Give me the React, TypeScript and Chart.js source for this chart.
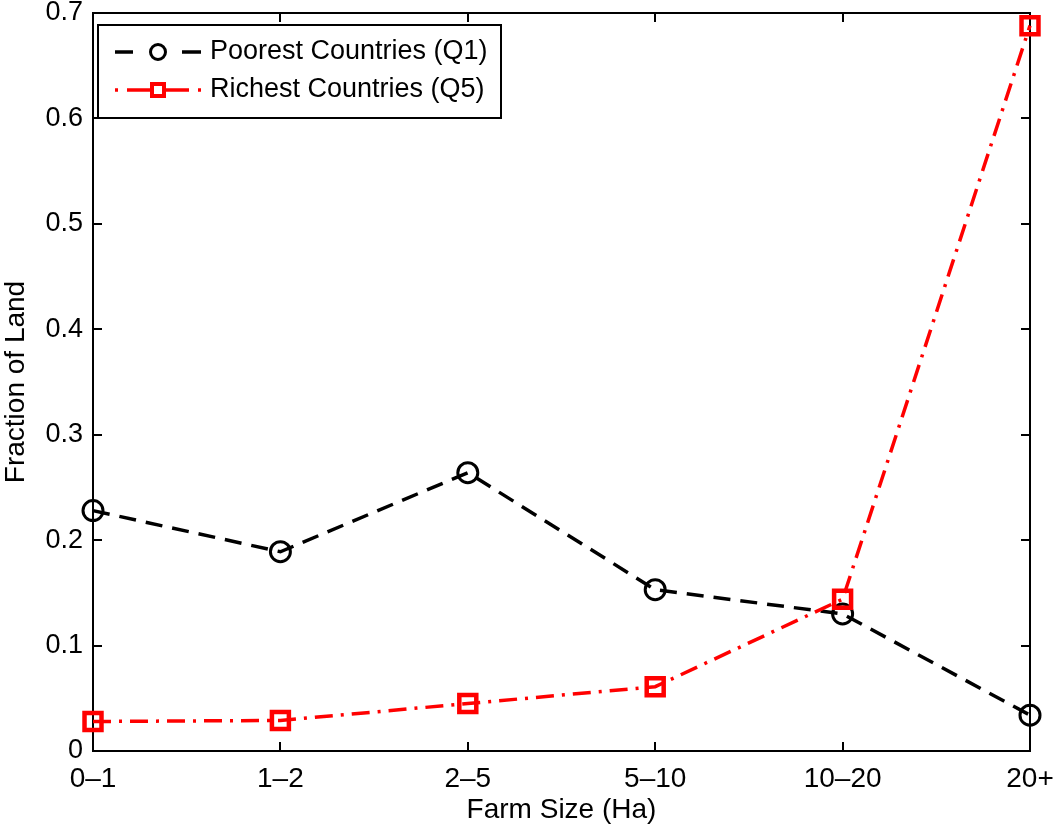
import React, { useEffect, useRef } from "react";
import { Chart, registerables } from "chart.js";

Chart.register(...registerables);

const categories = ["0\u20131", "1\u20132", "2\u20135", "5\u201310", "10\u201320", "20+"];
const poorest = [0.228, 0.189, 0.264, 0.153, 0.130, 0.034];
const richest = [0.028, 0.029, 0.045, 0.061, 0.144, 0.688];
const seriesNames = ["Poorest Countries (Q1)", "Richest Countries (Q5)"];

const FONT = "'Liberation Sans', Arial, Helvetica, sans-serif";
const RED = "#ff0000";
const BLACK_DASH = [17, 10];
const RED_DASH = [18, 8, 3, 8];

const framePlugin = {
  id: "frame",
  beforeDatasetsDraw(chart: any) {
    const { ctx, chartArea, scales } = chart;
    const { left, right, top, bottom } = chartArea;
    const x = scales.x;
    const y = scales.y;
    ctx.save();
    ctx.strokeStyle = "#000";
    ctx.lineWidth = 2;
    ctx.setLineDash([]);
    ctx.strokeRect(left, top, right - left, bottom - top);
    const tl = 9;
    ctx.beginPath();
    x.ticks.forEach((_: any, i: number) => {
      const px = Math.round(x.getPixelForTick(i));
      ctx.moveTo(px, bottom);
      ctx.lineTo(px, bottom - tl);
      ctx.moveTo(px, top);
      ctx.lineTo(px, top + tl);
    });
    y.ticks.forEach((_: any, i: number) => {
      const py = Math.round(y.getPixelForTick(i));
      ctx.moveTo(left, py);
      ctx.lineTo(left + tl, py);
      ctx.moveTo(right, py);
      ctx.lineTo(right - tl, py);
    });
    ctx.stroke();
    ctx.restore();
  },
  afterDraw(chart: any) {
    const { ctx, chartArea } = chart;
    const bx = chartArea.left + 5;
    const by = chartArea.top + 12;
    const bw = 403;
    const bh = 93;
    ctx.save();
    ctx.fillStyle = "#fff";
    ctx.fillRect(bx, by, bw, bh);
    ctx.strokeStyle = "#000";
    ctx.lineWidth = 2;
    ctx.setLineDash([]);
    ctx.strokeRect(bx, by, bw, bh);

    const rows = [by + 27, by + 65];
    const x0 = bx + 17;
    const x1 = bx + 103;
    const mx = (x0 + x1) / 2;
    ctx.strokeStyle = "#000";
    ctx.lineWidth = 3.5;
    ctx.beginPath();
    ctx.moveTo(x0, rows[0]);
    ctx.lineTo(x0 + 18, rows[0]);
    ctx.moveTo(x1 - 19, rows[0]);
    ctx.lineTo(x1, rows[0]);
    ctx.stroke();
    ctx.lineWidth = 3;
    ctx.beginPath();
    ctx.arc(mx, rows[0], 7.5, 0, Math.PI * 2);
    ctx.stroke();
    ctx.strokeStyle = RED;
    ctx.lineWidth = 3.5;
    ctx.beginPath();
    ctx.moveTo(x0, rows[1]);
    ctx.lineTo(x0 + 3, rows[1]);
    ctx.moveTo(x0 + 12, rows[1]);
    ctx.lineTo(x1 - 12, rows[1]);
    ctx.moveTo(x1 - 3, rows[1]);
    ctx.lineTo(x1, rows[1]);
    ctx.stroke();
    ctx.lineWidth = 4;
    ctx.fillStyle = "#fff";
    ctx.fillRect(mx - 6, rows[1] - 6, 12, 12);
    ctx.strokeRect(mx - 6, rows[1] - 6, 12, 12);

    ctx.fillStyle = "#000";
    ctx.font = `27px ${FONT}`;
    ctx.textBaseline = "middle";
    ctx.textAlign = "left";
    ctx.fillText(seriesNames[0], bx + 112, rows[0]);
    ctx.fillText(seriesNames[1], bx + 112, rows[1]);
    ctx.restore();
  },
};

export default function App() {
  const ref = useRef<HTMLCanvasElement | null>(null);
  useEffect(() => {
    document.body.style.margin = "0";
    const canvas = ref.current;
    if (!canvas) return;
    const chart = new Chart(canvas, {
      type: "line",
      data: {
        labels: categories,
        datasets: [
          {
            label: seriesNames[0],
            data: poorest,
            borderColor: "#000",
            borderWidth: 3.5,
            borderDash: BLACK_DASH,
            pointStyle: "circle",
            pointRadius: 10,
            pointBorderWidth: 3,
            pointBorderColor: "#000",
            pointBackgroundColor: "rgba(0,0,0,0)",
            fill: false,
            tension: 0,
            clip: false,
            order: 1,
          } as any,
          {
            label: seriesNames[1],
            data: richest,
            borderColor: RED,
            borderWidth: 3.5,
            borderDash: RED_DASH,
            pointStyle: "rect",
            pointRadius: 12,
            pointBorderWidth: 4.5,
            pointBorderColor: RED,
            pointBackgroundColor: "rgba(0,0,0,0)",
            fill: false,
            tension: 0,
            clip: false,
            order: 0,
          } as any,
        ],
      },
      options: {
        responsive: false,
        animation: false,
        layout: { autoPadding: false, padding: { top: 13, right: 23, left: 0, bottom: 0 } },
        plugins: { legend: { display: false }, tooltip: { enabled: false } },
        scales: {
          x: {
            type: "category",
            offset: false,
            grid: { display: false, drawTicks: false },
            border: { display: false },
            ticks: { color: "#000", font: { family: FONT, size: 28 }, padding: 11, maxRotation: 0, autoSkip: false },
            title: { display: true, text: "Farm Size (Ha)", color: "#000", font: { family: FONT, size: 28, lineHeight: 1 }, padding: 0 },
            afterFit: (s: any) => {
              s.height = 73;
              s.paddingLeft = 0;
              s.paddingRight = 0;
            },
          },
          y: {
            min: 0,
            max: 0.7,
            grid: { display: false, drawTicks: false },
            border: { display: false },
            ticks: {
              stepSize: 0.1,
              color: "#000",
              font: { family: FONT, size: 27 },
              padding: 10,
              callback: (v: any) => (Number(v) === 0 ? "0" : Number(v).toFixed(1)),
            },
            title: { display: true, text: "Fraction of Land", color: "#000", font: { family: FONT, size: 28, lineHeight: 1 }, padding: { top: 2, bottom: 0 } },
            afterFit: (s: any) => {
              s.width = 93;
              s.paddingTop = 0;
              s.paddingBottom = 0;
            },
          },
        },
      },
      plugins: [framePlugin],
    });
    return () => chart.destroy();
  }, []);
  return (
    <div style={{ width: 1053, height: 824, background: "#fff" }}>
      <canvas ref={ref} width={1053} height={824} />
    </div>
  );
}
